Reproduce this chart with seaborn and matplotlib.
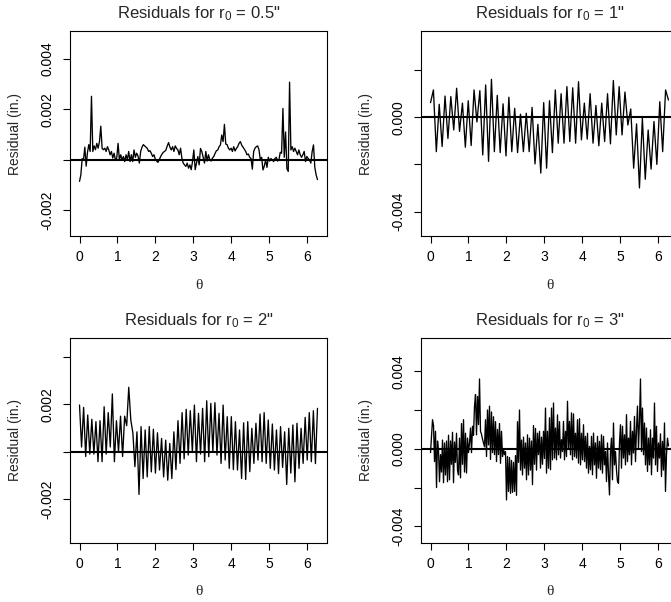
import numpy as np
import matplotlib
matplotlib.use("Agg")
import matplotlib.pyplot as plt
import seaborn as sns

# Residuals (units of 0.001 in.), sampled on an evenly spaced theta grid 0..2*pi
res_r05 = [-0.85, -0.6, 0.05, 0.0, 0.5, -0.25, 0.3, 0.6, 0.33, 2.51,
           0.33, 0.55, 0.4, 0.65, 0.46, 0.72, 1.33, 0.45, 0.4, 0.46,
           0.33, 0.52, 0.39, 0.2, 0.33, 0.07, 0.26, 0.0, 0.07, 0.65,
           0.0, 0.2, 0.0, 0.13, -0.07, 0.2, 0.0, 0.33, -0.07, 0.2,
           -0.07, 0.39, 0.1, 0.26, 0.15, -0.13, 0.33, 0.5, 0.6, 0.55,
           0.5, 0.45, 0.33, 0.36, 0.26, 0.13, 0.2, 0.03, -0.05, -0.1,
           0.0, 0.13, 0.22, 0.3, 0.33, 0.39, 0.55, 0.68, 0.5, 0.39,
           0.52, 0.33, 0.55, 0.45, 0.39, 0.2, 0.46, 0.07, -0.13, -0.2,
           -0.26, -0.13, -0.33, -0.2, -0.39, -0.07, 0.39, -0.39, -0.13, 0.13,
           -0.2, 0.45, 0.33, 0.1, -0.13, 0.33, -0.05, 0.2, 0.0, -0.05,
           0.07, 0.13, 0.26, 0.36, 0.39, 0.52, 0.59, 0.98, 0.72, 1.4,
           0.62, 0.6, 0.46, 0.39, 0.46, 0.33, 0.52, 0.35, 0.45, 0.52,
           0.65, 0.72, 0.58, 0.5, 0.42, 0.33, 0.2, 0.23, 0.1, 0.05,
           -0.37, 0.33, 0.46, 0.52, 0.55, 0.4, 0.0, 0.1, -0.4, -0.25,
           0.0, -0.3, 0.1, -0.05, 0.05, 0.0, -0.07, 0.05, 0.1, -0.05,
           0.0, 0.3, 0.26, 2.03, 0.1, 1.1, -0.35, -0.46, 3.07, 0.39,
           0.52, 0.33, 0.46, 0.33, 0.2, 0.39, 0.2, 0.1, 0.2, 0.33,
           -0.07, 0.13, 0.05, 0.0, -0.13, 0.33, 0.59, -0.3, -0.6, -0.78]

res_r1 = [0.62, 1.16, -1.46, 0.55, -1.24, 0.9, -0.9, 0.88, -0.54, 1.23,
          -0.6, 0.6, -1.27, 0.7, -1.2, 1.16, -0.2, 1.13, -1.6, 1.37,
          -1.87, 1.61, -1.46, 0.93, -1.5, 0.57, -1.64, 0.85, -1.46, 0.38,
          -1.5, 0.13, -1.46, 0.17, -1.46, 0.42, -1.98, -0.3, -2.37, 0.62,
          -2.16, 0.7, -1.5, 1.16, -1.1, 1.0, -1.1, 1.3, -1.03, 1.25,
          -1.1, 1.51, -0.96, 0.6, -0.93, 1.0, -1.1, 0.5, -1.21, 0.6,
          -1.03, 1.0, -1.13, 1.56, -0.75, 1.3, -0.75, 1.07, -0.33, 0.35,
          -2.16, -0.28, -3.0, -0.04, -2.63, -0.54, -2.2, -0.18, -2.0, 0.66,
          -1.46, 1.16, 0.73]

res_r2 = [1.97, 0.2, 1.87, -0.2, 1.55, -0.1, 1.37, -0.1, 1.27, -0.42,
          1.31, -0.42, 1.9, -0.1, 1.65, 0.2, 2.44, -0.42, 1.31, 0.0,
          1.5, -0.2, 1.5, 1.1, 2.72, 1.34, 0.8, -0.63, 0.84, -1.8,
          1.06, -1.13, 0.92, -1.06, 1.06, -0.85, 0.95, -0.9, 0.8, -0.77,
          0.56, -1.06, 0.49, -1.2, 0.35, -1.13, 0.84, -0.75, 1.31, -0.49,
          1.65, -0.3, 1.79, -0.14, 1.73, 0.0, 1.97, -0.42, 1.62, -0.1,
          1.83, -0.42, 2.15, -0.21, 2.04, 0.0, 2.07, -0.14, 1.62, -0.49,
          1.97, -0.35, 1.48, -0.7, 1.48, -0.75, 1.27, -0.77, 0.92, -1.13,
          1.22, -1.17, 1.27, -0.84, 0.99, -0.49, 1.2, -0.35, 1.59, -0.42,
          1.65, -0.49, 1.34, -0.7, 1.17, -0.77, 0.92, -0.92, 1.06, -0.66,
          0.84, -1.38, 0.99, -0.9, 1.13, -1.27, 1.2, -0.7, 0.99, -0.49,
          1.45, -0.35, 1.65, -0.42, 1.73, -0.5, 1.83]

res_r3 = [-0.2, 0.7, 1.5, 1.2, -0.66, 0.9, -2.0, 0.4, -0.1, -1.7,
          -0.3, -1.2, 0.45, -1.75, 0.3, -1.35, 0.4, -1.7, 0.7, -1.6,
          0.4, -0.8, 0.85, -1.75, 0.35, -0.7, 0.8, -1.1, -1.35, 0.55,
          -1.5, 1.3, -0.8, 1.5, -1.2, 0.8, -1.25, 0.55, -0.2, 0.3,
          1.07, -0.2, 1.16, 0.7, 2.2, 2.8, 0.72, 2.7, 1.25, 3.6,
          0.9, 0.75, 0.5, 0.3, 0.1, 1.5, -0.4, 2.0, 0.2, 2.2,
          -0.55, 1.9, -0.2, 1.65, -0.3, 1.4, -0.66, 1.0, -0.3, 1.3,
          -0.75, 0.9, -0.4, 0.0, -0.3, -0.15, -2.64, -0.4, -2.2, -0.45,
          -2.3, -0.6, -2.25, -0.7, -2.2, -0.35, -2.4, 1.4, -0.7, 2.0,
          -1.1, 0.45, -1.35, 0.6, -1.0, 0.3, -1.6, 0.72, -1.35, 0.55,
          -1.1, 0.4, -1.85, 1.2, -0.8, 1.05, -1.1, 0.8, -0.3, 0.9,
          -1.0, 0.6, -0.8, 0.9, -0.5, 2.1, -1.26, 0.9, -1.0, 1.6,
          -1.08, 2.1, -0.57, 2.36, -0.48, 1.07, -0.57, 1.75, -0.31, 1.4,
          -0.48, 0.47, -0.14, 1.41, -0.57, 0.9, -0.4, 2.45, 0.0, 1.41,
          -0.31, 1.85, -0.57, 1.8, -0.4, 0.8, -0.48, 1.5, -0.74, 1.55,
          -0.83, 0.8, -0.57, 1.24, -0.66, 0.64, -1.0, 0.8, -1.26, 0.12,
          -1.08, 0.64, -1.34, 0.81, -0.83, 0.3, -1.52, 0.64, -1.0, 0.38,
          -1.08, 0.72, -1.26, 0.64, -0.83, -0.14, -1.69, 0.3, -1.34, -2.38,
          -0.14, 0.55, -1.6, 1.33, -0.83, -0.14, -1.1, -1.69, -1.78, 0.3,
          1.24, -1.0, 1.16, -0.48, 0.72, -0.83, 1.76, -0.66, 0.55, -0.31,
          1.41, -0.83, 0.9, -0.22, 1.67, -0.66, 0.98, 2.2, 0.03, 1.41,
          3.6, -0.14, 2.1, -0.31, 1.33, -0.83, 1.07, -1.17, 0.55, -0.83,
          0.98, -1.34, 0.55, -0.48, 2.36, -0.83, 1.16, -1.17, 0.3, -0.48,
          0.77, -1.43, 0.38, -1.1, 1.33, -2.2, -0.31, 0.55, 0.15]

radii = ['0.5', '1', '2', '3']
series = [res_r05, res_r1, res_r2, res_r3]
ylims = [(-0.00303, 0.00509), (-0.00506, 0.00366),
         (-0.00385, 0.00482), (-0.00486, 0.00574)]
yticks = [[-0.002, 0.0, 0.002, 0.004], [-0.004, -0.002, 0.0, 0.002],
          [-0.002, 0.0, 0.002, 0.004], [-0.004, -0.002, 0.0, 0.002, 0.004]]
yticklabels = [['-0.002', '', '0.002', '0.004'], ['-0.004', '', '0.000', ''],
               ['-0.002', '', '0.002', ''], ['-0.004', '', '0.000', '', '0.004']]
xticks = [0, 1, 2, 3, 4, 5, 6]

sns.set_style("ticks")
plt.rcParams['font.family'] = ['Liberation Sans', 'DejaVu Sans']
plt.rcParams['mathtext.fontset'] = 'custom'
plt.rcParams['mathtext.rm'] = 'Liberation Sans'
plt.rcParams['mathtext.it'] = 'Liberation Sans'
plt.rcParams['axes.linewidth'] = 0.8
plt.rcParams['xtick.major.width'] = 0.8
plt.rcParams['ytick.major.width'] = 0.8
plt.rcParams['xtick.major.size'] = 5
plt.rcParams['ytick.major.size'] = 5
plt.rcParams['xtick.color'] = 'black'
plt.rcParams['ytick.color'] = 'black'
plt.rcParams['axes.edgecolor'] = 'black'

fig = plt.figure(figsize=(6.71, 6.02), dpi=100)
W, H = 671, 602
boxes = [(70, 31), (421, 31), (70, 337.5), (421, 337.5)]
bw, bh = 257, 205.5

for i in range(4):
    left, top = boxes[i]
    ax = fig.add_axes([left / W, 1 - (top + bh) / H, bw / W, bh / H])
    vals = np.array(series[i]) * 1e-3
    theta = np.linspace(0, 2 * np.pi, len(vals))
    sns.lineplot(x=theta, y=vals, ax=ax, color='black', lw=0.95,
                 estimator=None, sort=False)
    ax.axhline(0, color='black', lw=1.5, zorder=3)
    ax.set_xlim(-0.2513, 6.5345)
    ax.set_ylim(*ylims[i])
    ax.set_xticks(xticks)
    ax.set_xticklabels([str(t) for t in xticks], fontsize=10)
    ax.set_yticks(yticks[i])
    ax.set_yticklabels(yticklabels[i], fontsize=10, rotation=90, va='center')
    ax.tick_params(axis='x', pad=5)
    ax.tick_params(axis='y', pad=6)
    for s in ax.spines.values():
        s.set_visible(True)
        s.set_color('black')
    ax.set_title('Residuals for r$_0$ = ' + radii[i] + '"', fontsize=12, pad=9)
    ax.set_ylabel('Residual (in.)', fontsize=10)
    ax.yaxis.set_label_coords(-0.185, 0.5)
    ax.set_xlabel('θ', fontsize=11, family=['Liberation Serif', 'DejaVu Serif'])
    ax.xaxis.set_label_coords(0.5, -0.205)

fig.savefig('out.png', dpi=100)
